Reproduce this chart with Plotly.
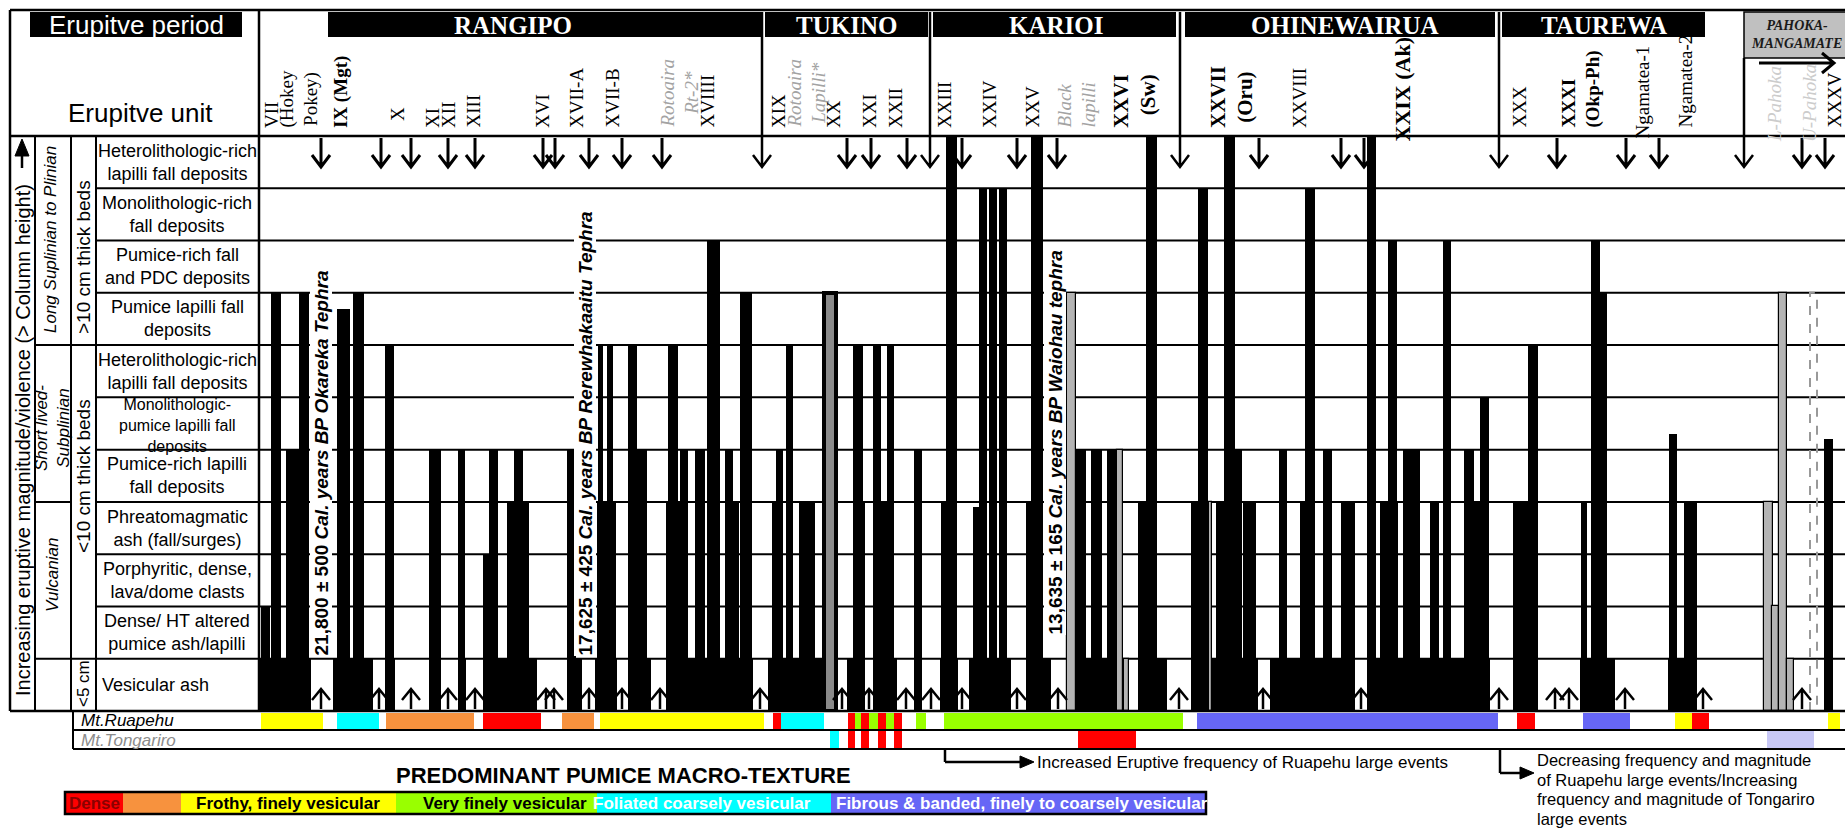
import plotly.graph_objects as go

W, H = 1845, 830
GRID_TOP, GRID_BOT = 136.0, 711.0
ROW_H = (GRID_BOT - GRID_TOP) / 11.0
PLOT_X0 = 259.0

SANS = "Liberation Sans, Arial, sans-serif"
SERIF = "Liberation Serif, Times New Roman, serif"
NARROW = "Liberation Sans Narrow, Arial Narrow, Liberation Sans, sans-serif"

# ======================= DATA =======================
# eruptive magnitude levels, bottom (1) to top (11)
level_labels = [
    "Vesicular ash",
    "Dense/ HT altered<br>pumice ash/lapilli",
    "Porphyritic, dense,<br>lava/dome clasts",
    "Phreatomagmatic<br>ash (fall/surges)",
    "Pumice-rich lapilli<br>fall deposits",
    "Monolithologic-<br>pumice lapilli fall<br>deposits",
    "Heterolithologic-rich<br>lapilli fall deposits",
    "Pumice lapilli fall<br>deposits",
    "Pumice-rich fall<br>and PDC deposits",
    "Monolithologic-rich<br>fall deposits",
    "Heterolithologic-rich<br>lapilli fall deposits",
]

# eruptive periods (stratigraphic position units)
period_names = ["RANGIPO", "TUKINO", "KARIOI", "OHINEWAIRUA", "TAUREWA"]
period_band_start = [328, 765, 933, 1185, 1502]
period_band_end = [762, 928, 1176, 1495, 1705]
period_label_at = [513, 846, 1056, 1345, 1604]
period_breaks = [762, 930, 1180, 1499, 1744]

# eruptive units
unit_names = ["VII", "(Hokey<br>Pokey)", "IX (Mgt)", "X", "XI", "XII", "XIII", "XVI",
              "XVII-A", "XVII-B", "<i>Rotoaira<br>Rt-2*</i>", "XVIIII", "XIX",
              "<i>Rotoaira<br>Lapilli*</i>", "XX", "XXI", "XXII", "XXIII", "XXIV", "XXV",
              "<i>Black<br>lapilli</i>", "XXVI<br>(Sw)", "XXVII<br>(Oru)", "XXVIII",
              "XXIX (Ak)", "XXX", "XXXI<br>(Okp-Ph)", "Ngamatea-1", "Ngamatea-2",
              "<i>L-Pahoka</i>", "<i>U-Pahoka</i>", "XXXV"]
unit_at = [271, 299, 341, 398, 432, 448, 473, 542, 576, 612, 679, 707, 778, 806, 833,
           869, 895, 944, 989, 1032, 1076, 1134, 1231, 1299, 1402, 1519, 1581, 1642,
           1685, 1774, 1809, 1834]
unit_kind = ["plain", "plain", "key", "plain", "plain", "plain", "plain", "plain",
             "plain", "plain", "tongariro", "plain", "plain", "tongariro", "plain",
             "plain", "plain", "plain", "plain", "plain", "tongariro", "key", "key",
             "plain", "key", "plain", "key", "plain", "plain", "pahoka", "pahoka", "plain"]

unit_top_marks = [321, 381, 411, 448, 475, 543, 555, 589, 622, 662, 847, 871, 907, 962,
                  1017, 1057, 1259, 1341, 1364, 1557, 1626, 1659, 1802, 1825]
unit_base_marks = [321, 379, 411, 448, 475, 546, 554, 589, 622, 660, 760, 842, 869, 906,
                   931, 962, 1017, 1058, 1179, 1263, 1361, 1499, 1555, 1569, 1625, 1703, 1802]

# deposits (black columns): start, end, magnitude level reached
bar_start = [261, 271, 286, 299, 337, 353, 385, 429, 458, 483, 489, 507, 514, 567, 597,
             598, 607, 628, 637, 666, 668, 680, 695, 707, 725, 725, 740, 772, 776, 786,
             799, 853, 853, 873, 873, 887, 914, 941, 946, 973, 979, 989, 999, 1026, 1031,
             1076, 1091, 1107, 1138, 1146, 1191, 1198, 1216, 1224, 1224, 1243, 1279, 1300,
             1305, 1323, 1341, 1367, 1380, 1388, 1403, 1430, 1443, 1464, 1464, 1480, 1513,
             1528, 1581, 1591, 1593, 1669, 1684, 1824]
bar_end = [270, 281, 300, 309, 350, 364, 394, 441, 465, 489, 498, 529, 523, 576, 616,
           603, 613, 637, 647, 680, 678, 688, 705, 720, 739, 733, 752, 783, 783, 793,
           815, 865, 863, 893, 881, 894, 922, 957, 957, 987, 987, 997, 1007, 1043, 1043,
           1086, 1102, 1117, 1153, 1157, 1208, 1208, 1241, 1235, 1242, 1256, 1287, 1315,
           1315, 1332, 1355, 1376, 1398, 1397, 1420, 1439, 1451, 1474, 1489, 1489, 1537,
           1538, 1587, 1600, 1607, 1677, 1697, 1833]
bar_level = [2, 8, 5, 8, 7.7, 8, 7, 5, 5, 3, 5, 4, 5, 5, 4,
             7, 7, 7, 5, 4, 7, 5, 5, 9, 4, 5, 8, 4, 5, 7,
             4, 4, 7, 4, 7, 7, 5, 4, 11.05, 3.9, 10, 10, 10, 4, 11.05,
             5, 5, 5, 4, 11.05, 4, 10, 4, 11.05, 5, 4, 5, 4,
             10, 5, 4, 11.05, 4, 9, 5, 4, 9, 5, 4, 6, 4,
             7, 4, 9, 8, 5.3, 4, 5.2]

# vesicular ash base deposits (level 1)
ash_start = [260, 333, 385, 429, 458, 484, 567, 595, 628, 666, 768, 847, 874, 915, 940,
             969, 1026, 1076, 1138, 1192, 1270, 1367, 1513, 1580, 1668]
ash_end = [311, 373, 395, 441, 466, 537, 582, 617, 651, 753, 826, 865, 897, 922, 958,
           1011, 1051, 1117, 1167, 1258, 1355, 1490, 1538, 1615, 1697]

# Tongariro-sourced / uncertain deposits (grey)
grey_start = [1067, 1117, 1124, 1209, 1764, 1772, 1779, 1787]
grey_end = [1076, 1123, 1129, 1212, 1773, 1779, 1787, 1794]
grey_level = [8, 5, 1, 4, 4, 2, 8, 1]
double_start, double_end, double_level = [824], [836], [8]
dashed_start, dashed_end, dashed_level = [1810], [1817], [8]

tephra_text = ["21,800 ± 500 <i>Cal. years BP Okareka Tephra</i>",
               "17,625 ± 425 <i>Cal. years BP Rerewhakaaitu Tephra</i>",
               "13,635 ± 165 <i>Cal. years BP Waiohau tephra</i>"]
tephra_at = [321, 585, 1055]

# pumice macro-texture
texture_names = ["Dense", "", "Frothy, finely vesicular", "Very finely vesicular",
                 "Foliated coarsely vesicular",
                 "Fibrous & banded, finely to coarsely vesicular"]
texture_colors = ["#ff0000", "#f7923e", "#ffff00", "#99ff00", "#00ffff", "#6666f6"]
pale_fibrous = "#c8c8f6"

ruapehu_start = [261, 337, 386, 483, 562, 600, 773, 781, 848, 855, 861, 869, 878, 886,
                 894, 916, 944, 1197, 1517, 1583, 1675, 1692, 1828]
ruapehu_end = [323, 379, 474, 541, 594, 764, 781, 824, 855, 861, 869, 878, 886, 894,
               902, 926, 1183, 1498, 1535, 1630, 1692, 1709, 1840]
ruapehu_texture = [2, 4, 1, 0, 1, 2, 0, 4, 0, 3, 0, 3, 0, 3, 0, 3, 3, 5, 0, 5, 2, 0, 2]
tongariro_start = [830, 848, 861, 878, 894, 1078, 1767]
tongariro_end = [839, 855, 869, 886, 902, 1136, 1814]
tongariro_texture = [4, 0, 0, 0, 0, 0, 6]

# ======================= HELPERS =======================
def px(x): return x / W
def py(y): return 1.0 - y / H
def level_px(l): return GRID_BOT - l * ROW_H

shapes, annotations = [], []

def seg(x0, y0, x1, y1, w=2.0, color="black", xdata=False, dash="solid", layer="above"):
    shapes.append(dict(type="line", xref="x" if xdata else "paper", yref="paper",
                       x0=x0 if xdata else px(x0), x1=x1 if xdata else px(x1),
                       y0=py(y0), y1=py(y1), layer=layer,
                       line=dict(color=color, width=w, dash=dash)))

def box(x0, y0, x1, y1, fill, lw=0, lc="black", xdata=False, layer="above"):
    shapes.append(dict(type="rect", xref="x" if xdata else "paper", yref="paper",
                       x0=x0 if xdata else px(x0), x1=x1 if xdata else px(x1),
                       y0=py(y0), y1=py(y1), fillcolor=fill, layer=layer,
                       line=dict(color=lc, width=lw)))

def path(subpaths, w=2.5, color="black", fill=None, xdata=False):
    parts = []
    for sp in subpaths:
        for i, (x, y) in enumerate(sp):
            xx = x if xdata else px(x)
            parts.append(("M" if i == 0 else "L") + f"{xx:.5f},{py(y):.5f}")
        if fill:
            parts.append("Z")
    shapes.append(dict(type="path", xref="x" if xdata else "paper", yref="paper",
                       path=" ".join(parts), fillcolor=fill or "rgba(0,0,0,0)",
                       line=dict(color=color, width=w)))

def text(x, y, s, size, color="black", family=SANS, angle=0, xanchor="center",
         yanchor="middle", xdata=False, bg=None, align="center"):
    a = dict(x=x if xdata else px(x), y=py(y), xref="x" if xdata else "paper",
             yref="paper", text=s, showarrow=False, textangle=angle, xanchor=xanchor,
             yanchor=yanchor, align=align, borderpad=0,
             font=dict(family=family, size=size, color=color))
    if bg:
        a["bgcolor"] = bg
    annotations.append(a)

# ======================= TRACES =======================
def bars(starts, ends, levels, fill, lc=None, lw=0):
    return go.Bar(x=[(s + e) / 2 for s, e in zip(starts, ends)],
                  y=levels, width=[e - s for s, e in zip(starts, ends)], base=0,
                  marker=dict(color=fill, line=dict(color=lc or fill, width=lw)),
                  hoverinfo="skip", showlegend=False, xaxis="x", yaxis="y")

fig = go.Figure()
fig.add_trace(bars(ash_start, ash_end, [1] * len(ash_start), "black"))
fig.add_trace(bars(bar_start, bar_end, bar_level, "black"))
fig.add_trace(bars(double_start, double_end, double_level, "#8a8a8a", "black", 4))
fig.add_trace(bars(grey_start, grey_end, grey_level, "#b4b4b4", "black", 1.2))
for s, e, l in zip(dashed_start, dashed_end, dashed_level):
    fig.add_trace(go.Scatter(x=[s, s, e, e], y=[0, l, l, 0], mode="lines",
                             line=dict(color="#999999", width=2, dash="dash"),
                             hoverinfo="skip", showlegend=False))

# ======================= FRAME =======================
seg(10, 10, W, 10, 2.5)
seg(10, 10, 10, GRID_BOT, 2.5)
seg(PLOT_X0, 10, PLOT_X0, GRID_BOT, 2.5)
seg(10, GRID_TOP, W, GRID_TOP, 2.5)
seg(10, GRID_BOT, W, GRID_BOT, 2.5)
for xc in (35, 71, 96):
    seg(xc, GRID_TOP, xc, GRID_BOT, 2)
for k in range(1, 11):
    seg(96, level_px(k), W, level_px(k), 2, layer="below")
seg(35, level_px(7), 96, level_px(7), 2)
seg(35, level_px(4), 71, level_px(4), 2)
seg(35, level_px(1), 96, level_px(1), 2)
# magnitude arrow
seg(22, 150, 22, 168, 2.5)
path([[(15, 156), (22, 139), (29, 156)]], w=1, fill="black")

# header
box(30, 12, 242, 37, "black")
text(136, 25, "Erupitve period", 26, color="white")
text(140, 113, "Erupitve unit", 26)

# period bands
for name, s, e, c in zip(period_names, period_band_start, period_band_end, period_label_at):
    box(s, 12, e, 37, "black", xdata=True)
    text(c, 25, "<b>" + name + "</b>", 25, color="white", family=SERIF, xdata=True)
box(1744, 12, 1850, 58, "#c0c0c0", 1.5, xdata=True)
text(1796, 35, "<b><i>PAHOKA-<br>MANGAMATE</i></b>", 14, color="#1a1a1a",
     family=SERIF, xdata=True)
path([[(1759, 63), (1833, 63)], [(1822, 53), (1834, 63), (1822, 73)]], w=3, xdata=True)
for b in period_breaks:
    top = 58 if b == period_breaks[-1] else 12
    path([[(b, top), (b, 167)], [(b - 9, 155), (b, 167), (b + 9, 155)]], w=2.5, xdata=True)

# unit marks
for x in unit_top_marks:
    path([[(x, 138), (x, 167)], [(x - 9, 155), (x, 167), (x + 9, 155)]], w=3, xdata=True)
for x in unit_base_marks:
    path([[(x, 709), (x, 689)], [(x - 9, 700), (x, 689), (x + 9, 700)]], w=2.5, xdata=True)

# unit labels
special_bottom = {"X": 122, "XXIX (Ak)": 143, "Ngamatea-1": 140,
                  "<i>L-Pahoka</i>": 143, "<i>U-Pahoka</i>": 143}
special_align = {"XXVI<br>(Sw)": "right", "XXXI<br>(Okp-Ph)": "left",
                 "<i>Black<br>lapilli</i>": "left"}
special_size = {"XXIX (Ak)": 22, "XXVI<br>(Sw)": 21, "XXVII<br>(Oru)": 21}
kind_color = {"plain": "black", "key": "black", "tongariro": "#a3a3a3", "pahoka": "#cccccc"}
for name, x, kind in zip(unit_names, unit_at, unit_kind):
    s = "<b>" + name + "</b>" if kind == "key" else name
    text(x, special_bottom.get(name, 129), s, special_size.get(name, 19),
         color=kind_color[kind], family=SERIF, angle=-90, yanchor="bottom", xdata=True,
         align=special_align.get(name, "center"))

# tephra markers
tephra_bottom = [657, 657, 636]
for t, x, b in zip(tephra_text, tephra_at, tephra_bottom):
    text(x, b, "<b>" + t + "</b>", 19, angle=-90, yanchor="bottom", xdata=True, bg="white")

# y-axis descriptors
text(23, 440, "Increasing eruptive magnitude/violence (> Column height)", 20, angle=-90)
text(50, 240, "<i>Long Suplinian to Plinian</i>", 17, angle=-90)
text(52, 428, "<i>Short lived-<br>Subplinian</i>", 17, angle=-90)
text(52, 575, "<i>Vulcanian</i>", 17, angle=-90)
text(83, 257, ">10 cm thick beds", 19, angle=-90)
text(83, 476, "<10 cm thick beds", 19, angle=-90)
text(83, 684, "<5 cm", 17, angle=-90)
for i, lab in enumerate(level_labels):
    lvl = i + 1
    yc = GRID_BOT - (lvl - 0.5) * ROW_H
    if lvl == 1:
        text(101, yc, lab, 18, xanchor="left")
    elif lvl == 6:
        text(177, yc + 2, lab, 16)
    else:
        text(177, yc, lab, 18)

# source strips
seg(73, GRID_BOT, 73, 749, 2)
seg(73, 730, W, 730, 2)
seg(73, 749, W, 749, 2)
for s, e, t in zip(ruapehu_start, ruapehu_end, ruapehu_texture):
    box(s, 713, e, 729, texture_colors[t], xdata=True)
for s, e, t in zip(tongariro_start, tongariro_end, tongariro_texture):
    col = pale_fibrous if t == 6 else texture_colors[t]
    box(s, 731, e, 748, col, xdata=True)
text(80, 720, "<i>Mt.Ruapehu</i>", 17, xanchor="left")
text(80, 740, "<i>Mt.Tongariro</i>", 17, color="#8c8c8c", xanchor="left")

# trend notes
seg(945, 750, 945, 762, 2.5)
seg(945, 762, 1022, 762, 2.5)
path([[(1020, 756), (1034, 762), (1020, 768)]], w=1, fill="black")
text(1036, 762, "Increased Eruptive frequency of Ruapehu large events", 17, xanchor="left")
seg(1500, 750, 1500, 773, 2.5)
seg(1500, 773, 1522, 773, 2.5)
path([[(1520, 767), (1534, 773), (1520, 779)]], w=1, fill="black")
for j, ln in enumerate(["Decreasing frequency and magnitude",
                        "of Ruapehu large events/Increasing",
                        "frequency and magnitude of Tongariro",
                        "large events"]):
    text(1536, 760 + 19.5 * j, ln, 16.5, xanchor="left")

# texture legend
text(623, 775, "<b>PREDOMINANT PUMICE MACRO-TEXTURE</b>", 22, family=NARROW)
seg_x = [65, 123, 181, 396, 597, 831, 1206]
for i in range(6):
    box(seg_x[i], 792, seg_x[i + 1], 814, texture_colors[i])
box(65, 792, 1206, 814, "rgba(0,0,0,0)", 2.5)
leg_text_x = [68, None, 195, 422, 592, 835]
leg_text_col = ["#8b0000", None, "black", "black", "white", "white"]
for i in range(6):
    if texture_names[i]:
        text(leg_text_x[i], 803, "<b>" + texture_names[i] + "</b>", 17,
             color=leg_text_col[i], family=NARROW, xanchor="left")

fig.update_layout(
    width=W, height=H, autosize=False,
    margin=dict(l=0, r=0, t=0, b=0),
    paper_bgcolor="white", plot_bgcolor="rgba(0,0,0,0)",
    barmode="overlay", bargap=0,
    xaxis=dict(domain=[px(PLOT_X0), 1.0], range=[PLOT_X0, W], visible=False,
               fixedrange=True),
    yaxis=dict(domain=[py(GRID_BOT), py(GRID_TOP)], range=[0, 11], visible=False,
               fixedrange=True),
    shapes=shapes, annotations=annotations, showlegend=False,
)

fig.write_html("out.html", config={"displayModeBar": False},
               post_script="document.body.style.margin='0';")
